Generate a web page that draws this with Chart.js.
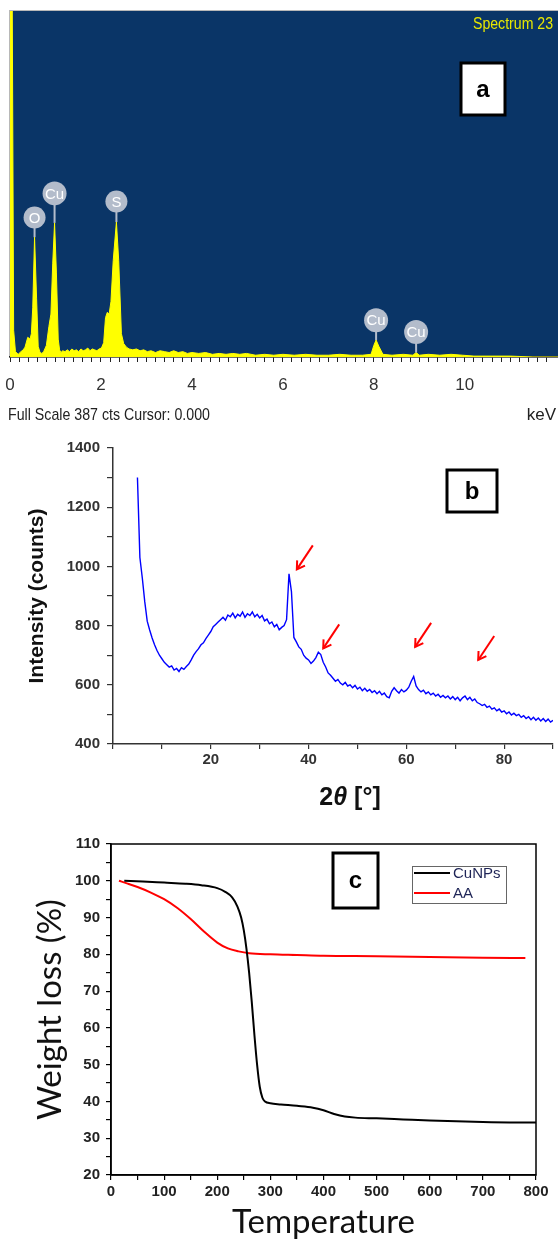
<!DOCTYPE html>
<html>
<head>
<meta charset="utf-8">
<script src="https://cdn.jsdelivr.net/npm/chart.js@4.4.0/dist/chart.umd.min.js"></script>
<style>
  html, body { margin: 0; padding: 0; background: #fff; }
  #wrap { position: relative; width: 558px; height: 1240px; overflow: hidden; }
  canvas { position: absolute; left: 0; }
</style>
</head>
<body>
<div id="wrap">
  <canvas id="eds" width="558" height="430" style="top:0"></canvas>
  <canvas id="xrd" width="558" height="390" style="top:430px"></canvas>
  <canvas id="tga" width="558" height="420" style="top:820px"></canvas>
</div>
<script>
'use strict';

// ---------- panel a : EDS spectrum ----------
const edsKeV = [0, 0.05, 0.08, 0.12, 0.18, 0.24, 0.29, 0.33, 0.39, 0.44,
  0.47, 0.50, 0.54, 0.585, 0.62, 0.66, 0.70, 0.74, 0.80, 0.855,
  0.90, 0.94, 0.98, 1.02, 1.06, 1.09, 1.12, 1.16, 1.21, 1.26,
  1.31, 1.36, 1.41, 1.46, 1.51, 1.56, 1.61, 1.66, 1.71, 1.76,
  1.81, 1.86, 1.91, 1.96, 2.01, 2.06, 2.10, 2.14, 2.18, 2.22,
  2.27, 2.34, 2.39, 2.45, 2.50, 2.56, 2.62, 2.70, 2.78, 2.86,
  2.94, 3.02, 3.10, 3.20, 3.30, 3.40, 3.50, 3.60, 3.70, 3.80,
  3.90, 4.00, 4.15, 4.30, 4.45, 4.60, 4.75, 4.90, 5.05, 5.20,
  5.40, 5.60, 5.80, 6.00, 6.25, 6.50, 6.75, 7.00, 7.25, 7.50,
  7.75, 7.94, 8.00, 8.05, 8.11, 8.20, 8.40, 8.65, 8.86, 8.93,
  9.00, 9.20, 9.45, 9.70, 9.95, 10.2, 10.6, 11.0, 11.5, 12.05];
const edsCounts = [387, 387, 30, 6, 3, 6, 8, 11, 22, 20,
  26, 55, 134, 65, 12, 5, 4, 6, 13, 34,
  48, 105, 150, 95, 20, 8, 5, 7, 6, 8,
  6, 9, 7, 8, 6, 9, 7, 8, 10, 7,
  9, 8, 7, 9, 10, 16, 44, 50, 48, 62,
  108, 151, 108, 26, 15, 11, 9, 8, 9, 7,
  8, 6, 7, 5, 7, 6, 5, 7, 5, 6,
  4, 5, 4, 5, 3, 4, 3, 4, 3, 4,
  2, 3, 2, 3, 2, 3, 2, 2, 3, 2,
  2, 3, 13, 19, 12, 3, 2, 3, 2, 5,
  2, 3, 2, 3, 2, 1, 1, 1, 0, 0];
const edsLabelNames = ['O', 'Cu', 'S', 'Cu', 'Cu'];
const edsLabelKeV = [0.54, 0.98, 2.34, 8.05, 8.93];
const edsLabelPeak = [134, 150, 151, 19, 5];
const edsLabelBadge = [156, 183, 174, 41, 28];

// ---------- panel b : XRD ----------
const xrdStart = 5, xrdStep = 0.5;
const xrdCounts = [
  1300, 1030, 960, 880, 815, 785, 758, 735, 716, 700,
  688, 676, 668, 660, 664, 650, 655, 645, 658, 652,
  662, 670, 684, 700, 712, 722, 735, 742, 756, 768,
  780, 796, 804, 812, 820, 828, 818, 836, 830, 842,
  826, 838, 832, 846, 828, 840, 834, 846, 830, 838,
  826, 834, 816, 822, 806, 812, 796, 804, 786, 794,
  800, 820, 975, 915, 760, 745, 728, 720, 700, 690,
  684, 672, 680, 692, 710, 702, 676, 660, 640, 632,
  622, 612, 618, 606, 600, 608, 596, 600, 590, 598,
  586, 592, 580, 588, 578, 584, 574, 580, 570, 578,
  566, 572, 560, 556, 578, 590, 580, 572, 584, 576,
  582, 592, 612, 628, 596, 584, 576, 582, 570, 576,
  566, 572, 562, 568, 558, 564, 556, 562, 552, 560,
  550, 558, 546, 556, 562, 550, 558, 546, 552, 540,
  536, 530, 534, 524, 528, 518, 522, 512, 518, 508,
  512, 502, 508, 498, 504, 496, 500, 490, 496, 486,
  492, 482, 490, 480, 488, 478, 486, 476, 484, 474,
  480];
const arrowTheta = [37.6, 43.0, 61.8, 74.7];
const arrowCounts = [990, 723, 728, 684];

// ---------- panel c : TGA ----------
const cuTemp = [25, 60, 100, 140, 170, 200, 215, 228, 238, 245,
  250, 255, 260, 265, 270, 275, 280, 285, 290, 300,
  320, 350, 380, 400, 420, 440, 460, 500, 550, 600,
  650, 700, 750, 800];
const cuWeight = [100, 99.8, 99.5, 99.2, 98.8, 98.0, 97.0, 95.5, 93.0, 90.0,
  86.5, 81.5, 75, 67, 58, 50, 44, 41, 40, 39.5,
  39.2, 38.8, 38.3, 37.6, 36.6, 35.9, 35.6, 35.4, 35.1, 34.8,
  34.6, 34.4, 34.3, 34.3];
const aaTemp = [15, 30, 50, 75, 100, 125, 150, 175, 200, 220,
  240, 260, 300, 350, 400, 500, 600, 700, 780];
const aaWeight = [100, 99.3, 98.3, 96.8, 95.0, 92.6, 89.6, 86.2, 83.2, 81.6,
  80.8, 80.3, 80.0, 79.8, 79.6, 79.5, 79.3, 79.1, 79.0];

const NARROW = '"Liberation Sans Narrow", "Liberation Sans", Arial, sans-serif';
const ARIAL = '"Liberation Sans", Arial, sans-serif';
const CALI = 'Lato, "Open Sans", sans-serif';

function fixWidth(w) {
  return function (s) { s.width = w; s.paddingTop = 0; s.paddingBottom = 0; };
}
function fixHeight(h) {
  return function (s) { s.height = h; s.paddingLeft = 0; s.paddingRight = 0; };
}
function labelBox(ctx, x, y, w, h, txt) {
  ctx.save();
  ctx.fillStyle = '#fff';
  ctx.fillRect(x, y, w, h);
  ctx.strokeStyle = '#000';
  ctx.lineWidth = 3;
  ctx.strokeRect(x, y, w, h);
  ctx.fillStyle = '#000';
  ctx.font = 'bold 24px ' + ARIAL;
  ctx.textAlign = 'center';
  ctx.textBaseline = 'middle';
  ctx.fillText(txt, x + w / 2, y + h / 2 + 1);
  ctx.restore();
}

// ---------- chart a ----------
const edsDecor = {
  id: 'edsDecor',
  beforeDraw(chart) {
    const { ctx, chartArea: a } = chart;
    ctx.save();
    ctx.strokeStyle = '#b8b8b8';
    ctx.lineWidth = 1;
    ctx.strokeRect(a.left - 0.5, a.top - 0.5, a.right - a.left + 2, a.bottom - a.top + 1);
    ctx.fillStyle = '#0a3567';
    ctx.fillRect(a.left, a.top, a.right - a.left, a.bottom - a.top);
    ctx.restore();
  },
  afterDatasetsDraw(chart) {
    const { ctx } = chart;
    const xs = chart.scales.x, ys = chart.scales.y;
    ctx.save();
    edsLabelNames.forEach((name, i) => {
      const px = xs.getPixelForValue(edsLabelKeV[i]);
      const pTop = ys.getPixelForValue(edsLabelPeak[i]);
      const pc = ys.getPixelForValue(edsLabelBadge[i]);
      const r = name.length > 1 ? 12 : 11;
      ctx.strokeStyle = '#b3bccb';
      ctx.lineWidth = 2;
      ctx.beginPath(); ctx.moveTo(px, pc); ctx.lineTo(px, pTop); ctx.stroke();
      ctx.fillStyle = '#b3bccb';
      ctx.beginPath(); ctx.arc(px, pc, r, 0, Math.PI * 2); ctx.fill();
      ctx.fillStyle = '#fff';
      ctx.font = '15px ' + NARROW;
      ctx.textAlign = 'center';
      ctx.textBaseline = 'middle';
      ctx.fillText(name, px, pc + 1);
    });
    ctx.fillStyle = '#e8e800';
    ctx.font = '16px ' + NARROW;
    ctx.textAlign = 'right';
    ctx.textBaseline = 'middle';
    ctx.fillText('Spectrum 23', 553, 25, 80);
    ctx.restore();
    labelBox(ctx, 461, 63, 44, 52, 'a');
  },
  afterDraw(chart) {
    const { ctx } = chart;
    ctx.save();
    ctx.fillStyle = '#222';
    ctx.font = '17px ' + NARROW;
    ctx.textBaseline = 'middle';
    ctx.textAlign = 'left';
    ctx.fillText('Full Scale 387 cts Cursor: 0.000', 8, 415, 202);
    ctx.textAlign = 'right';
    ctx.fillText('keV', 556, 415);
    ctx.restore();
  }
};

new Chart(document.getElementById('eds'), {
  type: 'line',
  data: {
    datasets: [{
      data: edsKeV.map((k, i) => ({ x: k, y: edsCounts[i] })),
      borderColor: '#ffff00',
      backgroundColor: '#ffff00',
      borderWidth: 1,
      fill: 'origin',
      pointRadius: 0,
      tension: 0
    }]
  },
  options: {
    responsive: false,
    animation: false,
    layout: { padding: { left: 10, top: 11, right: 0, bottom: 0 } },
    plugins: { legend: { display: false }, tooltip: { enabled: false } },
    scales: {
      x: {
        type: 'linear', min: 0, max: 12.05,
        afterFit: fixHeight(73),
        ticks: {
          stepSize: 0.2, autoSkip: false, maxRotation: 0, padding: 13,
          color: '#333', font: { family: NARROW, size: 17 },
          callback: v => {
            const r = Math.round(v * 10) / 10;
            return (Number.isInteger(r) && r % 2 === 0 && r <= 10) ? String(r) : '';
          }
        },
        grid: { drawOnChartArea: false, tickLength: 5, color: '#222' },
        border: { color: '#222', width: 1.5 }
      },
      y: { display: false, min: 0, max: 387 }
    }
  },
  plugins: [edsDecor]
});

// ---------- chart b ----------
const xrdDecor = {
  id: 'xrdDecor',
  afterDatasetsDraw(chart) {
    const { ctx } = chart;
    const xs = chart.scales.x, ys = chart.scales.y;
    ctx.save();
    ctx.strokeStyle = '#ff0000';
    ctx.lineWidth = 2;
    arrowTheta.forEach((t, i) => {
      const tx = xs.getPixelForValue(t), ty = ys.getPixelForValue(arrowCounts[i]);
      const sx = tx + 16, sy = ty - 24;
      ctx.beginPath(); ctx.moveTo(sx, sy); ctx.lineTo(tx, ty); ctx.stroke();
      const ang = Math.atan2(ty - sy, tx - sx);
      ctx.beginPath();
      ctx.moveTo(tx + 9 * Math.cos(ang + Math.PI - 0.55), ty + 9 * Math.sin(ang + Math.PI - 0.55));
      ctx.lineTo(tx, ty);
      ctx.lineTo(tx + 9 * Math.cos(ang + Math.PI + 0.55), ty + 9 * Math.sin(ang + Math.PI + 0.55));
      ctx.stroke();
    });
    ctx.restore();
    labelBox(ctx, 447, 40, 50, 42, 'b');
  },
  afterDraw(chart) {
    const { ctx } = chart;
    ctx.save();
    ctx.fillStyle = '#111';
    ctx.textBaseline = 'middle';
    ctx.textAlign = 'left';
    const parts = [['bold 25px ' + ARIAL, '2'], ['italic bold 25px ' + ARIAL, '\u03B8'], ['bold 25px ' + ARIAL, ' [\u00B0]']];
    let w = 0;
    parts.forEach(p => { ctx.font = p[0]; w += ctx.measureText(p[1]).width; });
    let x = 350 - w / 2;
    parts.forEach(p => { ctx.font = p[0]; ctx.fillText(p[1], x, 368); x += ctx.measureText(p[1]).width; });
    ctx.restore();
  }
};

new Chart(document.getElementById('xrd'), {
  type: 'line',
  data: {
    datasets: [{
      data: xrdCounts.map((c, i) => ({ x: xrdStart + i * xrdStep, y: c })),
      borderColor: '#0000ff',
      borderWidth: 1.4,
      pointRadius: 0,
      tension: 0
    }]
  },
  options: {
    responsive: false,
    animation: false,
    layout: { padding: { left: 0, top: 18, right: 5, bottom: 0 } },
    plugins: { legend: { display: false }, tooltip: { enabled: false } },
    scales: {
      x: {
        type: 'linear', min: 0, max: 90,
        afterFit: fixHeight(76),
        ticks: {
          stepSize: 10, autoSkip: false, maxRotation: 0, padding: 2,
          color: '#333', font: { family: ARIAL, size: 15, weight: 'bold' },
          callback: v => (v % 20 === 0 && v > 0) ? String(v) : ''
        },
        grid: { drawOnChartArea: false, tickLength: 5, color: '#333', lineWidth: 1.2 },
        border: { color: '#333', width: 1.5 }
      },
      y: {
        min: 400, max: 1400,
        afterFit: fixWidth(113),
        ticks: {
          stepSize: 100, autoSkip: false, padding: 7,
          color: '#333', font: { family: ARIAL, size: 15, weight: 'bold' },
          callback: v => (v % 200 === 0) ? String(v) : ''
        },
        grid: { drawOnChartArea: false, tickLength: 6, color: '#333', lineWidth: 1.2 },
        border: { color: '#333', width: 1.5 },
        title: {
          display: true, text: 'Intensity (counts)', color: '#111',
          font: { family: ARIAL, size: 21, weight: 'bold', lineHeight: 1 },
          padding: { top: 27, bottom: 0 }
        }
      }
    }
  },
  plugins: [xrdDecor]
});

// ---------- chart c ----------
const tgaDecor = {
  id: 'tgaDecor',
  afterDatasetsDraw(chart) {
    const { ctx, chartArea: a } = chart;
    ctx.save();
    ctx.strokeStyle = '#000';
    ctx.lineWidth = 1.5;
    ctx.strokeRect(a.left, a.top, a.right - a.left, a.bottom - a.top);
    // legend
    ctx.lineWidth = 1;
    ctx.strokeStyle = '#666';
    ctx.fillStyle = '#fff';
    ctx.fillRect(412.5, 46.5, 94, 37);
    ctx.strokeRect(412.5, 46.5, 94, 37);
    chart.data.datasets.forEach((ds, i) => {
      const y = 53 + i * 20;
      ctx.strokeStyle = ds.borderColor;
      ctx.lineWidth = 2;
      ctx.beginPath(); ctx.moveTo(414, y); ctx.lineTo(450, y); ctx.stroke();
      ctx.fillStyle = '#1e2456';
      ctx.font = '15px ' + ARIAL;
      ctx.textAlign = 'left';
      ctx.textBaseline = 'middle';
      ctx.fillText(ds.label, 453, y + 1);
    });
    ctx.restore();
    labelBox(ctx, 333, 33, 45, 55, 'c');
  }
};

new Chart(document.getElementById('tga'), {
  type: 'line',
  data: {
    datasets: [{
      label: 'CuNPs',
      data: cuTemp.map((t, i) => ({ x: t, y: cuWeight[i] })),
      borderColor: '#000000',
      borderWidth: 2,
      pointRadius: 0,
      cubicInterpolationMode: 'monotone'
    }, {
      label: 'AA',
      data: aaTemp.map((t, i) => ({ x: t, y: aaWeight[i] })),
      borderColor: '#ff0000',
      borderWidth: 2,
      pointRadius: 0,
      cubicInterpolationMode: 'monotone'
    }]
  },
  options: {
    responsive: false,
    animation: false,
    layout: { padding: { left: 0, top: 24, right: 22, bottom: 0 } },
    plugins: { legend: { display: false }, tooltip: { enabled: false } },
    scales: {
      x: {
        type: 'linear', min: 0, max: 800,
        afterFit: fixHeight(65),
        ticks: {
          stepSize: 50, autoSkip: false, maxRotation: 0, padding: 3,
          color: '#222', font: { family: ARIAL, size: 15, weight: 'bold' },
          callback: v => (v % 100 === 0) ? String(v) : ''
        },
        grid: { drawOnChartArea: false, tickLength: 5, color: '#000', lineWidth: 1.2 },
        border: { color: '#000', width: 1.5 },
        title: {
          display: true, text: 'Temperature', color: '#111',
          font: { family: CALI, size: 33, lineHeight: 1 },
          padding: { top: 0, bottom: 1 }
        }
      },
      y: {
        min: 20, max: 110,
        afterFit: fixWidth(111),
        ticks: {
          stepSize: 5, autoSkip: false, padding: 6,
          color: '#222', font: { family: ARIAL, size: 15, weight: 'bold' },
          callback: v => (v % 10 === 0) ? String(v) : ''
        },
        grid: { drawOnChartArea: false, tickLength: 5, color: '#000', lineWidth: 1.2 },
        border: { color: '#000', width: 1.5 },
        title: {
          display: true, text: 'Weight loss (%)', color: '#111',
          font: { family: CALI, size: 33, lineHeight: 1 },
          padding: { top: 34, bottom: 0 }
        }
      }
    }
  },
  plugins: [tgaDecor]
});
</script>
</body>
</html>
